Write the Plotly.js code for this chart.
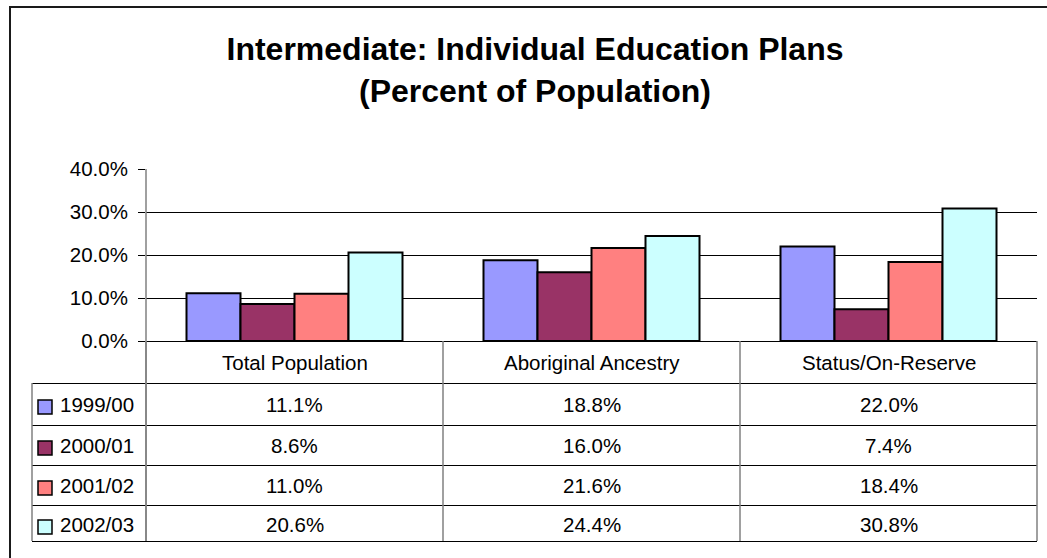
<!DOCTYPE html>
<html>
<head>
<meta charset="utf-8">
<script src="https://cdn.plot.ly/plotly-3.0.1.min.js"></script>
<style>
  html, body { margin: 0; padding: 0; background: #fff; }
  #chart { width: 1047px; height: 558px; }
</style>
</head>
<body>
<div id="chart"></div>
<script>
// ---- data ----
const categories = ['Total Population', 'Aboriginal Ancestry', 'Status/On-Reserve'];
const seriesNames = ['1999/00', '2000/01', '2001/02', '2002/03'];
const v1999 = [0.111, 0.188, 0.220];
const v2000 = [0.086, 0.160, 0.074];
const v2001 = [0.110, 0.216, 0.184];
const v2002 = [0.206, 0.244, 0.308];
const seriesColors = ['#9999FF', '#993366', '#FF8080', '#CCFFFF'];
const yTicks = [0, 0.1, 0.2, 0.3, 0.4];
const titleText = 'Intermediate: Individual Education Plans<br>(Percent of Population)';

const seriesValues = [v1999, v2000, v2001, v2002];

// ---- geometry helpers (pixel -> paper) ----
const W = 1047, H = 558;
const M = { l: 146, r: 10, t: 169, b: 217 };
const PW = W - M.l - M.r, PH = H - M.t - M.b;
const px = p => (p - M.l) / PW;
const py = p => (H - M.b - p) / PH;

const FONT = 'Liberation Sans, Arial, Helvetica, sans-serif';
const fs = 20.5;

const traces = seriesNames.map((name, i) => ({
  type: 'bar',
  name: name,
  x: categories,
  y: seriesValues[i],
  marker: { color: seriesColors[i], line: { color: '#000', width: 2 } },
  hoverinfo: 'x+y+name'
}));

const shapes = [];
const annotations = [];

// white cover over the top (40%) gridline: the reference has only a tick there
shapes.push({ type: 'line', xref: 'paper', yref: 'paper', x0: px(147), x1: 1.01, y0: 1, y1: 1,
  line: { color: '#fff', width: 3 }, layer: 'above' });

// outer frame
shapes.push({ type: 'rect', xref: 'paper', yref: 'paper', x0: px(10), x1: px(1200), y0: py(7), y1: py(700),
  line: { color: '#1a1a1a', width: 2 }, layer: 'below' });

// table rows
const rowLines = [383, 425, 465, 505, 541];
const rowCenters = [404, 445, 485, 524];
const headerCenter = 362;
rowLines.forEach(r => {
  shapes.push({ type: 'line', xref: 'paper', yref: 'paper', x0: px(32), x1: px(1037), y0: py(r + 0.5), y1: py(r + 0.5),
    line: { color: '#000', width: 1 } });
});
// vertical lines (gray)
const colEdges = [146, 443, 740, 1037];
colEdges.forEach(c => {
  shapes.push({ type: 'line', xref: 'paper', yref: 'paper', x0: px(c), x1: px(c), y0: py(341), y1: py(541),
    line: { color: '#808080', width: 1.5 } });
});
shapes.push({ type: 'line', xref: 'paper', yref: 'paper', x0: px(32), x1: px(32), y0: py(383), y1: py(541),
  line: { color: '#808080', width: 1.5 } });

// category headers
categories.forEach(c => {
  annotations.push({ x: c, xref: 'x', y: py(headerCenter), yref: 'paper', text: c, showarrow: false,
    xanchor: 'center', yanchor: 'middle', font: { family: FONT, size: fs, color: '#000' } });
});

// legend keys + values
seriesNames.forEach((name, i) => {
  const yc = rowCenters[i];
  shapes.push({ type: 'rect', xref: 'paper', yref: 'paper', x0: px(38), x1: px(52), y0: py(yc + 10), y1: py(yc - 4),
    fillcolor: seriesColors[i], line: { color: '#000', width: 1.5 } });
  annotations.push({ x: px(58), xref: 'paper', y: py(yc), yref: 'paper', text: name, showarrow: false,
    xanchor: 'left', yanchor: 'middle', font: { family: FONT, size: fs, color: '#000' } });
  categories.forEach((c, j) => {
    annotations.push({ x: c, xref: 'x', y: py(yc), yref: 'paper', text: (seriesValues[i][j] * 100).toFixed(1) + '%',
      showarrow: false, xanchor: 'center', yanchor: 'middle', font: { family: FONT, size: fs, color: '#000' } });
  });
});

// y-axis line continuing down through the table
shapes.push({ type: 'line', xref: 'paper', yref: 'paper', x0: 0, x1: 0, y0: 1, y1: py(541),
  line: { color: '#808080', width: 1.5 } });

const layout = {
  width: W, height: H,
  margin: { l: M.l, r: M.r, t: M.t, b: M.b, pad: 0 },
  paper_bgcolor: '#fff', plot_bgcolor: '#fff',
  font: { family: FONT, size: fs, color: '#000' },
  title: {
    text: '<b>' + titleText.replace('<br>', '</b><br><b>') + '</b>',
    font: { family: FONT, size: 32, color: '#000' },
    x: 535 / W, xanchor: 'center', xref: 'container',
    y: 1 - 60 / H, yanchor: 'top', yref: 'container'
  },
  showlegend: false,
  barmode: 'group',
  bargap: 1.5 / 5.5,
  bargroupgap: 0,
  xaxis: {
    type: 'category', showticklabels: false, ticks: '', showgrid: false,
    showline: true, linecolor: '#000', linewidth: 1, zeroline: false, fixedrange: true
  },
  yaxis: {
    range: [0, 0.4], tickvals: yTicks, tickformat: '.1%',
    showgrid: true, gridcolor: '#000', gridwidth: 1, zeroline: false,
    showline: false,
    ticks: 'outside', ticklen: 7, tickwidth: 1, tickcolor: '#000',
    ticklabelstandoff: 6,
    tickfont: { family: FONT, size: fs, color: '#000' }, fixedrange: true
  },
  shapes: shapes,
  annotations: annotations
};

Plotly.newPlot('chart', traces, layout, { displayModeBar: false, staticPlot: true });
</script>
</body>
</html>
